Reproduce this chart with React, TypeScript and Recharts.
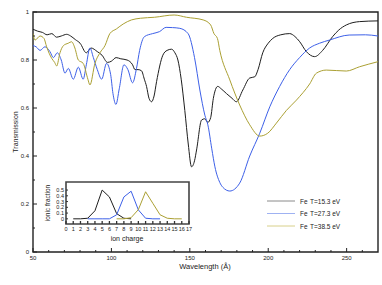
import React from 'react';
import { LineChart, Line, XAxis, YAxis, ReferenceArea } from 'recharts';

const FONT = '"Liberation Sans", Arial, Helvetica, sans-serif';

// ---- main chart data ----
const blackWave = [50,53,56,59,62,65,68,71.5,74,77,80,84,87,91,94,97.5,100,103,106,110,113.5,115,117,119.2,121,122.4,124,125.6,127.2,128.8,132.8,135.5,138.3,140.5,142.4,144.5,146.8,149,151.1,153,154.3,157.5,159.5,161.5,163.3,165,167.8,170,173.4,177,179.7,183.8,188.2,191.4,193.5,196.5,200,202.9,208,213.7,217,220.1,224.3,229.6,234.7,241,245,249.8,258.3,270];
const blackTrans = [0.928,0.92,0.915,0.905,0.91,0.895,0.9,0.907,0.9,0.885,0.87,0.83,0.85,0.835,0.82,0.79,0.795,0.81,0.805,0.80,0.78,0.76,0.76,0.755,0.72,0.69,0.64,0.626,0.65,0.71,0.82,0.84,0.845,0.83,0.80,0.72,0.59,0.45,0.355,0.38,0.425,0.55,0.555,0.54,0.56,0.64,0.69,0.68,0.66,0.64,0.626,0.675,0.725,0.73,0.76,0.83,0.87,0.89,0.905,0.91,0.898,0.876,0.835,0.814,0.84,0.897,0.925,0.946,0.96,0.963];

const blueWave = [50,52,54.5,57.6,60.8,63,65.5,68,70.4,72.5,75.7,78.9,82,84,86.3,88.5,91,93.8,96.9,99.5,101,102.9,105,108,110.5,113.5,116,118,121,126.3,130.6,134.9,139,143.6,148.9,153,156.4,159.6,161.5,164,166,169.1,171,175.5,181.8,188.2,194.6,201,207.3,213.7,220,226.4,232.8,239,251.6,262,270];
const blueTrans = [0.86,0.855,0.84,0.855,0.835,0.81,0.83,0.80,0.745,0.765,0.72,0.77,0.72,0.78,0.85,0.81,0.76,0.72,0.786,0.74,0.66,0.615,0.68,0.78,0.76,0.705,0.765,0.84,0.897,0.91,0.918,0.936,0.935,0.932,0.91,0.81,0.675,0.57,0.53,0.43,0.355,0.29,0.27,0.254,0.287,0.40,0.495,0.605,0.69,0.76,0.81,0.85,0.87,0.883,0.904,0.905,0.90];

const yellowWave = [50,51.3,54.5,57,58.7,61.9,63.8,65.1,67.2,69.4,72.5,74.6,76.7,78.9,82,85,86.3,89.5,92.7,95.9,99,103.3,107.5,112.8,118.6,127.4,140,147.9,158.5,163.3,165.4,167.6,169.1,175.5,181.8,188.2,194.6,199.7,205.2,211.6,218,226.4,230.7,237,249.8,258.3,270];
const yellowTrans = [0.91,0.883,0.90,0.89,0.855,0.807,0.79,0.775,0.83,0.86,0.87,0.876,0.85,0.80,0.786,0.72,0.696,0.786,0.83,0.86,0.91,0.93,0.95,0.967,0.974,0.978,0.9875,0.978,0.967,0.946,0.91,0.89,0.84,0.717,0.6125,0.53,0.483,0.495,0.537,0.59,0.633,0.70,0.745,0.758,0.754,0.772,0.793];

const seriesNames = ['T=15.3 eV', 'T=27.3 eV', 'T=38.5 eV'];
const seriesColors = ['#1e1e1e', '#3d60e8', '#aba033'];
const legendColors = ['#8a8a8a', '#9fb2f2', '#d8d08a'];

const xTicks = [50,60,70,80,90,100,110,120,130,140,150,160,170,180,190,200,210,220,230,240,250,260];
const yTicks = [0,0.1,0.2,0.3,0.4,0.5,0.6,0.7,0.8,0.9,1];

// ---- inset data ----
const blackCharge = [1,2,3,4,5,6,7,8,9];
const blackFrac = [0,0,0.01,0.14,0.5,0.38,0.09,0.01,0];
const blueCharge = [3,4,5,6,7,8,9,10,11,12,13];
const blueFrac = [0,0,0,0,0.07,0.38,0.48,0.155,0.01,0,0];
const yellowCharge = [7,8,9,10,11,12,13,14,15,16];
const yellowFrac = [0,0,0.02,0.16,0.47,0.27,0.07,0.01,0,0];
const insetXTicks = [0,1,2,3,4,5,6,7,8,9,10,11,12,13,14,15,16,17];
const insetYTicks = [0,0.1,0.2,0.3,0.4,0.5];

const pts = (xs: number[], ys: number[]) => xs.map((x, i) => ({ x, y: ys[i] }));

const mainSeries = [
  pts(blackWave, blackTrans),
  pts(blueWave, blueTrans),
  pts(yellowWave, yellowTrans),
];
const insetSeries = [
  pts(blackCharge, blackFrac),
  pts(blueCharge, blueFrac),
  pts(yellowCharge, yellowFrac),
];

const MainXTick = (props: any) => {
  const { x, y, payload } = props;
  const v = payload.value;
  const major = v % 50 === 0;
  return (
    <g>
      <line x1={x} x2={x} y1={y} y2={y - (major ? 4 : 2)} stroke="#222" strokeWidth={1} />
      {major && (
        <text x={x} y={y + 8} textAnchor="middle" fontSize={6} fontFamily={FONT} fill="#222">{v}</text>
      )}
    </g>
  );
};

const MainYTick = (props: any) => {
  const { x, y, payload } = props;
  const v = payload.value;
  const major = Math.round(v * 10) % 2 === 0;
  return (
    <g>
      <line x1={x} x2={x + (major ? 4 : 2)} y1={y} y2={y} stroke="#222" strokeWidth={1} />
      {major && (
        <text x={x - 4} y={y + 2} textAnchor="end" fontSize={6} fontFamily={FONT} fill="#222">{String(Math.round(v * 10) / 10)}</text>
      )}
    </g>
  );
};

const InsetXTick = (props: any) => {
  const { x, y, payload } = props;
  return (
    <g>
      <line x1={x} x2={x} y1={y} y2={y - 3} stroke="#333" strokeWidth={1.3} />
      <text x={x} y={y + 7} textAnchor="middle" fontSize={5.5} fontFamily={FONT} fill="#222">{payload.value}</text>
    </g>
  );
};

const InsetYTick = (props: any) => {
  const { x, y, payload } = props;
  return (
    <g>
      <line x1={x} x2={x + 2} y1={y} y2={y} stroke="#333" strokeWidth={1} />
      <text x={x - 2} y={y + 2} textAnchor="end" fontSize={5.5} fontFamily={FONT} fill="#222">{String(payload.value)}</text>
    </g>
  );
};

export default function App() {
  return (
    <div style={{ position: 'absolute', left: 0, top: 0, width: 382, height: 285, background: '#fff' }}>
      <LineChart width={382} height={285} margin={{ top: 12, right: 4, bottom: 13, left: 13 }}>
        <XAxis
          type="number"
          dataKey="x"
          domain={[50, 270]}
          ticks={xTicks}
          interval={0}
          height={20}
          tickSize={0}
          tickMargin={0}
          tickLine={false}
          axisLine={false}
          tick={(p: any) => <MainXTick {...p} />}
          allowDataOverflow
        />
        <YAxis
          type="number"
          dataKey="y"
          domain={[0, 1]}
          ticks={yTicks}
          interval={0}
          width={20}
          tickSize={0}
          tickMargin={0}
          tickLine={false}
          axisLine={false}
          tick={(p: any) => <MainYTick {...p} />}
          allowDataOverflow
        />
        {mainSeries.map((d, i) => (
          <Line
            key={i}
            data={d}
            dataKey="y"
            name={seriesNames[i]}
            type="monotone"
            stroke={seriesColors[i]}
            strokeWidth={1}
            dot={false}
            isAnimationActive={false}
          />
        ))}
        <ReferenceArea x1={50} x2={270} y1={0} y2={1} fill="none" fillOpacity={0} stroke="#222" strokeWidth={1.4} />
      </LineChart>

      <svg width={382} height={285} style={{ position: 'absolute', left: 0, top: 0, pointerEvents: 'none' }}>
        <text x={16} y={132} transform="rotate(-90 16 132)" textAnchor="middle" dominantBaseline="middle" fontSize={7} fontFamily={FONT} fill="#222">Transmission</text>
        <text x={205} y={269} textAnchor="middle" fontSize={7.5} fontFamily={FONT} fill="#222">Wavelength (Å)</text>
        {seriesNames.map((n, i) => (
          <g key={n}>
            <line x1={267} x2={295} y1={201 + i * 12.5} y2={201 + i * 12.5} stroke={legendColors[i]} strokeWidth={1} />
            <text x={300} y={203.5 + i * 12.5} fontSize={6.5} fontFamily={FONT} fill="#222">Fe</text>
            <text x={310} y={203.5 + i * 12.5} fontSize={6.5} fontFamily={FONT} fill="#222">{n}</text>
          </g>
        ))}
        <text x={48} y={203} transform="rotate(-90 48 203)" textAnchor="middle" dominantBaseline="middle" fontSize={6.5} fontFamily={FONT} fill="#222">ionic fraction</text>
        <text x={127} y={241} textAnchor="middle" fontSize={7} fontFamily={FONT} fill="#222">ion charge</text>
      </svg>

      <div style={{ position: 'absolute', left: 40, top: 175 }}>
        <LineChart width={160} height={75} margin={{ top: 7, right: 11, bottom: 11, left: 11 }}>
          <XAxis
            type="number"
            dataKey="x"
            domain={[0, 17]}
            ticks={insetXTicks}
            interval={0}
            height={15}
            tickSize={0}
            tickMargin={0}
            tickLine={false}
            axisLine={false}
            tick={(p: any) => <InsetXTick {...p} />}
            allowDataOverflow
          />
          <YAxis
            type="number"
            dataKey="y"
            domain={[-0.09, 0.64]}
            ticks={insetYTicks}
            interval={0}
            width={15}
            tickSize={0}
            tickMargin={0}
            tickLine={false}
            axisLine={false}
            tick={(p: any) => <InsetYTick {...p} />}
            allowDataOverflow
          />
          {insetSeries.map((d, i) => (
            <Line
              key={i}
              data={d}
              dataKey="y"
              type="linear"
              stroke={seriesColors[i]}
              strokeWidth={1}
              dot={false}
              isAnimationActive={false}
            />
          ))}
          <ReferenceArea x1={0} x2={17} y1={-0.09} y2={0.64} fill="none" fillOpacity={0} stroke="#444" strokeWidth={1.6} />
        </LineChart>
      </div>
    </div>
  );
}
